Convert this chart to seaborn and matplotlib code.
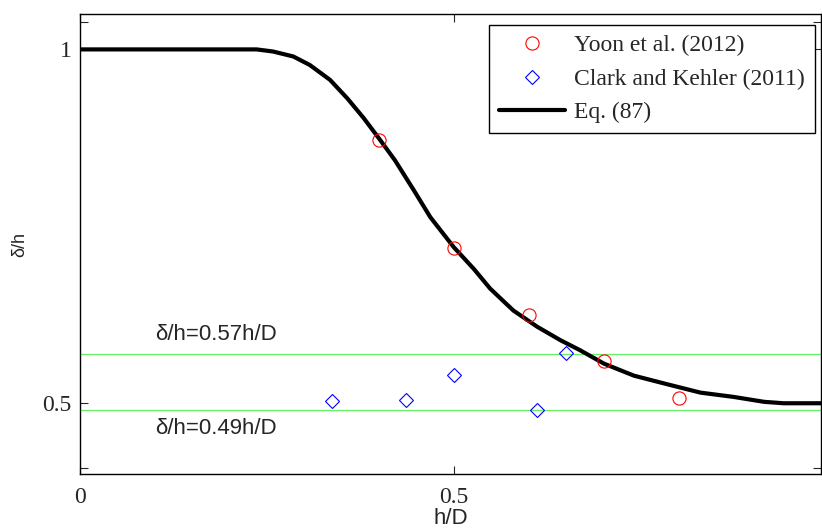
import numpy as np
import pandas as pd
import matplotlib
matplotlib.use("Agg")
import matplotlib.pyplot as plt
import seaborn as sns

# ---- data ----
curve_x = [0.0, 0.236, 0.258, 0.285, 0.307, 0.334, 0.357, 0.379, 0.401, 0.421,
           0.446, 0.468, 0.499, 0.526, 0.548, 0.579, 0.611, 0.642, 0.668, 0.700,
           0.740, 0.784, 0.829, 0.873, 0.914, 0.940, 0.990]
curve_y = [1.0, 1.0, 0.997, 0.990, 0.978, 0.957, 0.931, 0.903, 0.872, 0.843,
           0.801, 0.763, 0.721, 0.690, 0.662, 0.631, 0.608, 0.589, 0.575, 0.556,
           0.539, 0.527, 0.515, 0.509, 0.502, 0.500, 0.500]

yoon_x = [0.4, 0.5, 0.6, 0.7, 0.8]
yoon_y = [0.872, 0.719, 0.624, 0.559, 0.508]

clark_x = [0.337, 0.436, 0.500, 0.610, 0.649]
clark_y = [0.503, 0.505, 0.540, 0.491, 0.571]

ref_levels = [0.57, 0.49]
ref_labels = ["δ/h=0.57h/D", "δ/h=0.49h/D"]
ref_text_y = [0.597, 0.464]

xticks = [0.0, 0.5]
xticklabels = ["0", "0.5"]
yticks = [0.409, 0.5, 1.0, 1.039]
yticklabels = ["", "0.5", "1", ""]

legend_labels = ["Yoon et al. (2012)", "Clark and Kehler (2011)", "Eq. (87)"]

# ---- style ----
sns.set_style("ticks")
plt.rcParams["font.family"] = ["Liberation Serif", "DejaVu Serif"]
plt.rcParams["xtick.direction"] = "in"
plt.rcParams["ytick.direction"] = "in"
plt.rcParams["xtick.top"] = True
plt.rcParams["ytick.right"] = True

fig = plt.figure(figsize=(8.22, 5.31), dpi=100)
ax = fig.add_axes([0.0973, 0.1073, 0.9015, 0.8663])

sans = ["Liberation Sans", "DejaVu Sans"]

for lv in ref_levels:
    ax.axhline(lv, color="#66f066", lw=0.9, zorder=1)

df_curve = pd.DataFrame({"x": curve_x, "y": curve_y})
sns.lineplot(data=df_curve, x="x", y="y", ax=ax, color="black", lw=3.0,
             sort=False, estimator=None, zorder=2)

df_y = pd.DataFrame({"x": yoon_x, "y": yoon_y})
sns.lineplot(data=df_y, x="x", y="y", ax=ax, marker="o", linestyle="",
             markersize=9.5, markerfacecolor="none", markeredgecolor="red",
             markeredgewidth=0.8, color="red", estimator=None, zorder=3)

df_c = pd.DataFrame({"x": clark_x, "y": clark_y})
sns.lineplot(data=df_c, x="x", y="y", ax=ax, marker="D", linestyle="",
             markersize=7.0, markerfacecolor="none", markeredgecolor="blue",
             markeredgewidth=0.8, color="blue", estimator=None, zorder=3)

for lbl, ty in zip(ref_labels, ref_text_y):
    ax.text(0.101, ty, lbl, family=sans, fontsize=16, ha="left", va="center")

ax.set_xlim(0, 0.99)
ax.set_ylim(0.4, 1.05)
ax.set_xticks(xticks)
ax.set_xticklabels(xticklabels, fontsize=17)
ax.set_yticks(yticks)
ax.set_yticklabels(yticklabels, fontsize=17)
ax.tick_params(axis="both", length=6, width=0.8, pad=6)
ax.tick_params(axis="x", pad=9)
for s in ax.spines.values():
    s.set_linewidth(1.0)
    s.set_color("black")

ax.set_xlabel("h/D", family=sans, fontsize=16, labelpad=0)
ax.set_ylabel("δ/h", family=sans, fontsize=13, labelpad=10)

from matplotlib.lines import Line2D
handles = [
    Line2D([], [], marker="o", linestyle="", markersize=9.5, markerfacecolor="none",
           markeredgecolor="red", markeredgewidth=0.8),
    Line2D([], [], marker="D", linestyle="", markersize=7.0, markerfacecolor="none",
           markeredgecolor="blue", markeredgewidth=0.8),
    Line2D([], [], color="black", lw=3.0),
]
leg = ax.legend(handles, legend_labels, loc="upper right",
                bbox_to_anchor=(0.992, 0.976), fontsize=17, frameon=True,
                fancybox=False, edgecolor="black", framealpha=1,
                handlelength=2.8, handletextpad=0.4, labelspacing=0.5,
                borderpad=0.42, borderaxespad=0)
leg.get_frame().set_linewidth(1.0)

fig.savefig("out.png", dpi=100)
